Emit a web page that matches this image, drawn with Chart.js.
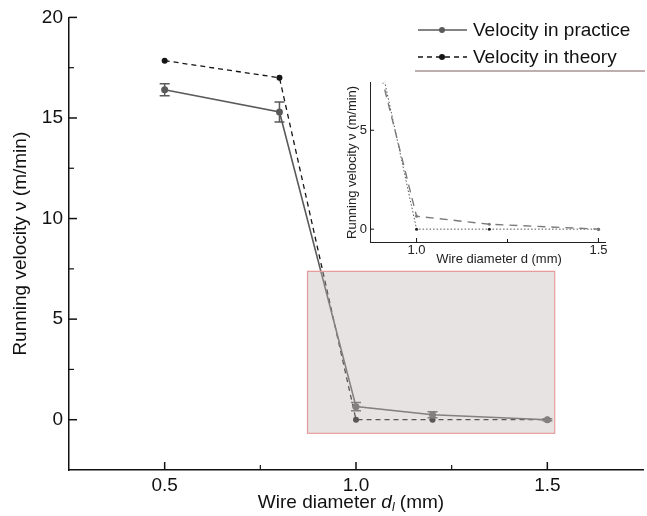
<!DOCTYPE html>
<html>
<head>
<meta charset="utf-8">
<script src="https://cdn.jsdelivr.net/npm/chart.js@4.4.1/dist/chart.umd.min.js"></script>
<style>
    body { margin: 0; background: #fff; }
    #wrap { position: relative; width: 647px; height: 516px; }
    #mainChart { position: absolute; left: 0; top: 0; }
    #insetChart { position: absolute; left: 330px; top: 72px; }
</style>
</head>
<body>
<div id="wrap">
    <canvas id="mainChart" width="647" height="516"></canvas>
    <canvas id="insetChart" width="300" height="195"></canvas>
</div>
<script>
// data
const diameters = [0.5, 0.8, 1.0, 1.2, 1.5];
const practice = [16.4, 15.3, 0.65, 0.25, 0.0];
const practiceErr = [0.3, 0.5, 0.2, 0.15, 0.05];
const theory = [17.85, 17.0, 0.0, 0.0, 0.0];
const seriesNames = ['Velocity in practice', 'Velocity in theory'];

const xTicks = [0.5, 1.0, 1.5];
const xMinorTicks = [0.75, 1.25];
const yTicks = [0, 5, 10, 15, 20];
const yMinorTicks = [2.5, 7.5, 12.5, 17.5];
const insetXTicks = [1.0, 1.5];
const insetXMinor = [1.25];
const insetYTicks = [0, 5];

// zoomed region (data units)
const zoomBox = { xMin: 0.872, xMax: 1.518, yMin: -0.65, yMax: 7.4 };

const FONT = "'Liberation Sans', Arial, sans-serif";
const practiceColor = '#5a5a5a';
const theoryColor = '#151515';

function toPoints(xs, ys) {
    return xs.map((x, i) => ({ x: x, y: ys[i] }));
}

function drawInwardTicks(chart, xs, ys, len, width) {
    const ctx = chart.ctx;
    const x = chart.scales.x, y = chart.scales.y;
    const area = chart.chartArea;
    ctx.save();
    ctx.strokeStyle = '#111';
    ctx.lineWidth = width;
    xs.forEach(v => {
        const px = x.getPixelForValue(v);
        ctx.beginPath();
        ctx.moveTo(px, area.bottom);
        ctx.lineTo(px, area.bottom - len);
        ctx.stroke();
    });
    ys.forEach(v => {
        const py = y.getPixelForValue(v);
        ctx.beginPath();
        ctx.moveTo(area.left, py);
        ctx.lineTo(area.left + len, py);
        ctx.stroke();
    });
    ctx.restore();
}

const mainDecor = {
    id: 'mainDecor',
    afterDatasetsDraw(chart) {
        const ctx = chart.ctx;
        const x = chart.scales.x, y = chart.scales.y;

        // error bars for practice
        ctx.save();
        ctx.strokeStyle = practiceColor;
        ctx.lineWidth = 1.5;
        diameters.forEach((d, i) => {
            const px = x.getPixelForValue(d);
            const top = y.getPixelForValue(practice[i] + practiceErr[i]);
            const bot = y.getPixelForValue(practice[i] - practiceErr[i]);
            ctx.beginPath();
            ctx.moveTo(px, top); ctx.lineTo(px, bot);
            ctx.moveTo(px - 5, top); ctx.lineTo(px + 5, top);
            ctx.moveTo(px - 5, bot); ctx.lineTo(px + 5, bot);
            ctx.stroke();
        });
        ctx.restore();

        // shaded zoom box
        const l = x.getPixelForValue(zoomBox.xMin), r = x.getPixelForValue(zoomBox.xMax);
        const t = y.getPixelForValue(zoomBox.yMax), b = y.getPixelForValue(zoomBox.yMin);
        ctx.save();
        ctx.fillStyle = 'rgba(195,185,182,0.4)';
        ctx.fillRect(l, t, r - l, b - t);
        ctx.strokeStyle = '#e79a9a';
        ctx.lineWidth = 1.2;
        ctx.strokeRect(l + 0.5, t + 0.5, r - l, b - t);
        ctx.restore();
    },
    afterDraw(chart) {
        const ctx = chart.ctx;
        const area = chart.chartArea;
        drawInwardTicks(chart, xTicks, yTicks, 8, 1.5);
        drawInwardTicks(chart, xMinorTicks, yMinorTicks, 5, 1.2);

        ctx.save();
        ctx.fillStyle = '#111';
        ctx.textBaseline = 'middle';

        // x title with italic d and subscript l
        const parts = [
            { t: 'Wire diameter ', f: '19px ' + FONT, dy: 0 },
            { t: 'd', f: 'italic 19px ' + FONT, dy: 0 },
            { t: 'l', f: 'italic 12px ' + FONT, dy: 5 },
            { t: ' (mm)', f: '19px ' + FONT, dy: 0 }
        ];
        let total = 0;
        parts.forEach(p => { ctx.font = p.f; p.w = ctx.measureText(p.t).width; total += p.w; });
        let cx = (area.left + area.right) / 2 - total / 2 - 5;
        parts.forEach(p => {
            ctx.font = p.f;
            ctx.textAlign = 'left';
            ctx.fillText(p.t, cx, 503 + p.dy);
            cx += p.w;
        });

        // y title
        ctx.save();
        ctx.translate(21, (area.top + area.bottom) / 2);
        ctx.rotate(-Math.PI / 2);
        ctx.font = '19px ' + FONT;
        ctx.textAlign = 'center';
        ctx.fillText('Running velocity \u03bd (m/min)', 0, 0);
        ctx.restore();

        // legend
        const rows = [
            { name: seriesNames[0], color: practiceColor, dash: [], y: 30 },
            { name: seriesNames[1], color: theoryColor, dash: [5, 4], y: 57 }
        ];
        rows.forEach(row => {
            ctx.strokeStyle = row.color;
            ctx.lineWidth = 1.5;
            ctx.setLineDash(row.dash);
            ctx.beginPath();
            ctx.moveTo(418, row.y);
            ctx.lineTo(467, row.y);
            ctx.stroke();
            ctx.setLineDash([]);
            ctx.fillStyle = row.color;
            ctx.beginPath();
            ctx.arc(442, row.y, 3, 0, Math.PI * 2);
            ctx.fill();
            ctx.fillStyle = '#111';
            ctx.font = '19px ' + FONT;
            ctx.textAlign = 'left';
            ctx.fillText(row.name, 473, row.y + 1);
        });
        ctx.strokeStyle = '#a89494';
        ctx.lineWidth = 1.5;
        ctx.beginPath();
        ctx.moveTo(415, 71);
        ctx.lineTo(645, 71);
        ctx.stroke();
        ctx.restore();
    }
};

const mainCtx = document.getElementById('mainChart').getContext('2d');
new Chart(mainCtx, {
    type: 'line',
    data: {
        datasets: [{
            label: seriesNames[0],
            data: toPoints(diameters, practice),
            borderColor: practiceColor,
            backgroundColor: practiceColor,
            borderWidth: 1.6,
            pointRadius: 3.5,
            pointBorderWidth: 0,
            tension: 0
        }, {
            label: seriesNames[1],
            data: toPoints(diameters, theory),
            borderColor: theoryColor,
            backgroundColor: theoryColor,
            borderWidth: 1.3,
            borderDash: [5, 4],
            pointRadius: 3,
            pointBorderWidth: 0,
            tension: 0
        }]
    },
    options: {
        responsive: false,
        animation: false,
        layout: { padding: { top: 16, right: 2, left: 0, bottom: 0 } },
        plugins: { legend: { display: false }, tooltip: { enabled: false } },
        scales: {
            x: {
                type: 'linear',
                min: 0.25,
                max: 1.75,
                afterFit: s => { s.height = 46; },
                afterBuildTicks: s => { s.ticks = xTicks.map(v => ({ value: v })); },
                ticks: {
                    callback: v => v.toFixed(1),
                    font: { size: 19, family: FONT },
                    color: '#111',
                    padding: 4,
                    maxRotation: 0,
                    autoSkip: false
                },
                grid: { display: false, drawTicks: false },
                border: { display: true, color: '#111', width: 1.5 }
            },
            y: {
                min: -2.5,
                max: 20,
                afterFit: s => { s.width = 69; },
                afterBuildTicks: s => { s.ticks = yTicks.map(v => ({ value: v })); },
                ticks: {
                    font: { size: 19, family: FONT },
                    color: '#111',
                    padding: 6
                },
                grid: { display: false, drawTicks: false },
                border: { display: true, color: '#111', width: 1.5 }
            }
        }
    },
    plugins: [mainDecor]
});

// inset: zoom of the shaded box
const insetDecor = {
    id: 'insetDecor',
    afterDraw(chart) {
        const ctx = chart.ctx;
        const area = chart.chartArea;
        drawInwardTicks(chart, insetXTicks, insetYTicks, 4, 1);
        drawInwardTicks(chart, insetXMinor, [], 3, 1);
        ctx.save();
        ctx.fillStyle = '#222';
        ctx.font = '13px ' + FONT;
        ctx.textAlign = 'center';
        ctx.textBaseline = 'middle';
        ctx.fillText('Wire diameter d (mm)', 169, 187);
        ctx.translate(22, (area.top + area.bottom) / 2);
        ctx.rotate(-Math.PI / 2);
        ctx.fillText('Running velocity \u03bd (m/min)', 0, 0);
        ctx.restore();
    }
};

const insetCtx = document.getElementById('insetChart').getContext('2d');
new Chart(insetCtx, {
    type: 'line',
    data: {
        datasets: [{
            label: seriesNames[0],
            data: toPoints(diameters, practice),
            borderColor: '#7a7a7a',
            backgroundColor: '#7a7a7a',
            borderWidth: 1.4,
            borderDash: [8, 6],
            pointRadius: 1.5,
            pointBorderWidth: 0,
            tension: 0
        }, {
            label: seriesNames[1],
            data: toPoints(diameters, theory),
            borderColor: '#555',
            backgroundColor: '#222',
            borderWidth: 1,
            borderDash: [1.5, 2],
            pointRadius: 1.5,
            pointBorderWidth: 0,
            tension: 0
        }]
    },
    options: {
        responsive: false,
        animation: false,
        layout: { padding: { top: 8, right: 25, left: 0, bottom: 0 } },
        plugins: { legend: { display: false }, tooltip: { enabled: false } },
        scales: {
            x: {
                type: 'linear',
                min: zoomBox.xMin,
                max: zoomBox.xMax,
                afterFit: s => { s.height = 25; },
                afterBuildTicks: s => { s.ticks = insetXTicks.map(v => ({ value: v })); },
                ticks: {
                    callback: v => v.toFixed(1),
                    font: { size: 13, family: FONT },
                    color: '#222',
                    padding: 1,
                    maxRotation: 0,
                    autoSkip: false
                },
                grid: { display: false, drawTicks: false },
                border: { display: true, color: '#222', width: 1 }
            },
            y: {
                min: zoomBox.yMin,
                max: zoomBox.yMax,
                afterFit: s => { s.width = 40; },
                afterBuildTicks: s => { s.ticks = insetYTicks.map(v => ({ value: v })); },
                ticks: {
                    font: { size: 13, family: FONT },
                    color: '#222',
                    padding: 3
                },
                grid: { display: false, drawTicks: false },
                border: { display: true, color: '#222', width: 1 }
            }
        }
    },
    plugins: [insetDecor]
});
</script>
</body>
</html>
